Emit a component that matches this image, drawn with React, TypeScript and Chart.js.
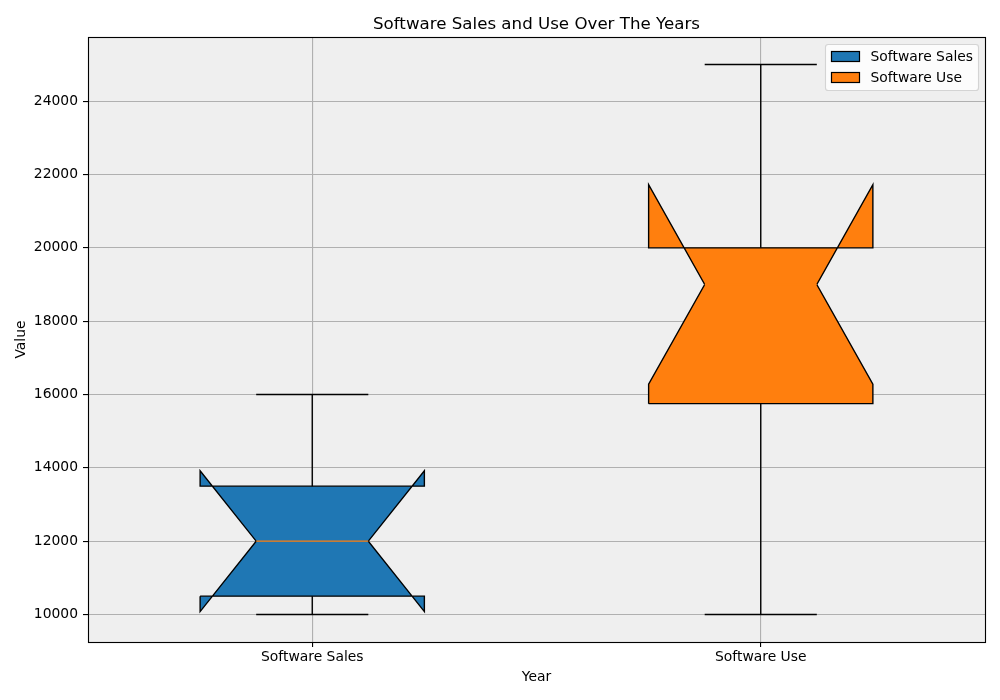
import React, { useEffect, useRef } from 'react';
import { Chart, registerables } from 'chart.js';

Chart.register(...registerables);

// ---- data ----
const categories = ['Software Sales', 'Software Use'];
const positions = [1, 2];
const whiskerLow = [10000, 10000];
const q1 = [10500, 15750];
const median = [12000, 19000];
const q3 = [13500, 20000];
const whiskerHigh = [16000, 25000];
const notchLow = [10080, 16280];
const notchHigh = [13920, 21720];
const boxColors = ['#1f77b4', '#ff7f0e'];
const medianColor = '#ff7f0e';
const yTicks = [10000, 12000, 14000, 16000, 18000, 20000, 22000, 24000];
const chartTitle = 'Software Sales and Use Over The Years';
const xTitle = 'Year';
const yTitle = 'Value';

const FONT = 'DejaVu Sans';
const BOX_HALF = 0.25;
const NOTCH_HALF = 0.125;
const CAP_HALF = 0.125;
const LW = 1.39;

function buildDatasets() {
  const ds: any[] = [];
  positions.forEach((c, i) => {
    const L = c - BOX_HALF;
    const R = c + BOX_HALF;
    const Ln = c - NOTCH_HALF;
    const Rn = c + NOTCH_HALF;
    const line = (data: any[], color = '#000') => ({
      type: 'scatter',
      showLine: true,
      data,
      borderColor: color,
      borderWidth: LW,
      pointRadius: 0,
      pointHoverRadius: 0,
      fill: false,
      order: 0,
    });
    // notched box polygon
    ds.push({
      type: 'scatter',
      label: categories[i],
      showLine: true,
      data: [
        { x: L, y: q1[i] },
        { x: R, y: q1[i] },
        { x: R, y: notchLow[i] },
        { x: Rn, y: median[i] },
        { x: R, y: notchHigh[i] },
        { x: R, y: q3[i] },
        { x: L, y: q3[i] },
        { x: L, y: notchHigh[i] },
        { x: Ln, y: median[i] },
        { x: L, y: notchLow[i] },
        { x: L, y: q1[i] },
      ],
      backgroundColor: boxColors[i],
      borderColor: '#000',
      borderWidth: LW,
      borderJoinStyle: 'miter',
      pointRadius: 0,
      pointHoverRadius: 0,
      fill: 'shape',
      tension: 0,
      order: 1,
    });
    ds.push(line([{ x: c, y: whiskerLow[i] }, { x: c, y: q1[i] }]));
    ds.push(line([{ x: c, y: q3[i] }, { x: c, y: whiskerHigh[i] }]));
    ds.push(line([{ x: c - CAP_HALF, y: whiskerLow[i] }, { x: c + CAP_HALF, y: whiskerLow[i] }]));
    ds.push(line([{ x: c - CAP_HALF, y: whiskerHigh[i] }, { x: c + CAP_HALF, y: whiskerHigh[i] }]));
    ds.push(line([{ x: Ln, y: median[i] }, { x: Rn, y: median[i] }], medianColor));
  });
  return ds;
}

const framePlugin = {
  id: 'frame',
  beforeDraw(chart: any) {
    const { ctx, chartArea: a } = chart;
    ctx.save();
    ctx.fillStyle = '#efefef';
    ctx.fillRect(a.left, a.top, a.right - a.left, a.bottom - a.top);
    ctx.restore();
  },
  afterDraw(chart: any) {
    const { ctx, chartArea: a } = chart;
    ctx.save();
    // spines
    ctx.strokeStyle = '#000';
    ctx.lineWidth = 1.11;
    ctx.strokeRect(a.left + 0.5, a.top + 0.5, a.right - a.left, a.bottom - a.top);

    // legend (upper right, inside the axes)
    const bx = a.right - 159.5;
    const by = a.top + 7.5;
    const bw = 153;
    const bh = 46;
    ctx.beginPath();
    ctx.roundRect(bx, by, bw, bh, 2.8);
    ctx.fillStyle = 'rgba(255,255,255,0.8)';
    ctx.fill();
    ctx.strokeStyle = 'rgba(204,204,204,0.8)';
    ctx.lineWidth = 1.11;
    ctx.stroke();
    ctx.font = `13.89px "${FONT}"`;
    ctx.textBaseline = 'middle';
    ctx.textAlign = 'left';
    ctx.lineWidth = 1.2;
    categories.forEach((name, i) => {
      const py = by + 7 + i * 21;
      ctx.fillStyle = boxColors[i];
      ctx.fillRect(bx + 6, py, 28, 10);
      ctx.strokeStyle = '#000';
      ctx.strokeRect(bx + 6, py, 28, 10);
      ctx.fillStyle = '#000';
      ctx.fillText(name, bx + 45, py + 5.5);
    });
    ctx.restore();
  },
};

export default function App() {
  const ref = useRef<HTMLCanvasElement>(null);
  useEffect(() => {
    const canvas = ref.current;
    if (!canvas) return;
    const tickFont = { family: FONT, size: 13.89 };
    const grid = {
      color: '#b0b0b0',
      lineWidth: 1.11,
      tickLength: 5,
      tickColor: '#000',
      tickWidth: 1.11,
    };
    const chart = new Chart(canvas, {
      type: 'scatter',
      data: { datasets: buildDatasets() },
      options: {
        animation: false,
        responsive: false,
        devicePixelRatio: 1,
        layout: { padding: { left: 0, right: 15, top: 0, bottom: 0 } },
        plugins: {
          legend: { display: false },
          tooltip: { enabled: false },
          title: { display: false },
        },
        scales: {
          x: {
            type: 'linear',
            position: 'bottom',
            min: 0.5,
            max: 2.5,
            afterBuildTicks(s: any) {
              s.ticks = positions.map((v) => ({ value: v }));
            },
            afterFit(s: any) {
              s.height = 58;
            },
            ticks: {
              autoSkip: false,
              maxRotation: 0,
              color: '#000',
              font: tickFont,
              padding: 2.5,
              callback: (_v: any, idx: number) => categories[idx],
            },
            grid,
            border: { display: false },
            title: {
              display: true,
              text: xTitle,
              color: '#000',
              font: tickFont,
              padding: { top: 0, bottom: 14.7 },
            },
          },
          x2: {
            type: 'linear',
            position: 'top',
            min: 0.5,
            max: 2.5,
            afterFit(s: any) {
              s.height = 37;
            },
            ticks: { display: false },
            grid: { display: false, drawTicks: false },
            border: { display: false },
            title: {
              display: true,
              text: chartTitle,
              color: '#000',
              font: { family: FONT, size: 16.67 },
              padding: { top: 14.3, bottom: 0 },
            },
          },
          y: {
            type: 'linear',
            min: 9250,
            max: 25750,
            afterBuildTicks(s: any) {
              s.ticks = yTicks.map((v) => ({ value: v }));
            },
            afterFit(s: any) {
              s.width = 88;
            },
            ticks: {
              color: '#000',
              font: tickFont,
              padding: 5,
              callback: (v: any) => String(v),
            },
            grid,
            border: { display: false },
            title: {
              display: true,
              text: yTitle,
              color: '#000',
              font: tickFont,
              padding: { top: 13, bottom: 0 },
            },
          },
        },
      } as any,
      plugins: [framePlugin],
    } as any);
    return () => chart.destroy();
  }, []);

  return (
    <div style={{ position: 'fixed', left: 0, top: 0, width: 1000, height: 700, background: '#fff' }}>
      <canvas ref={ref} width={1000} height={700} style={{ width: 1000, height: 700, display: 'block' }} />
    </div>
  );
}
